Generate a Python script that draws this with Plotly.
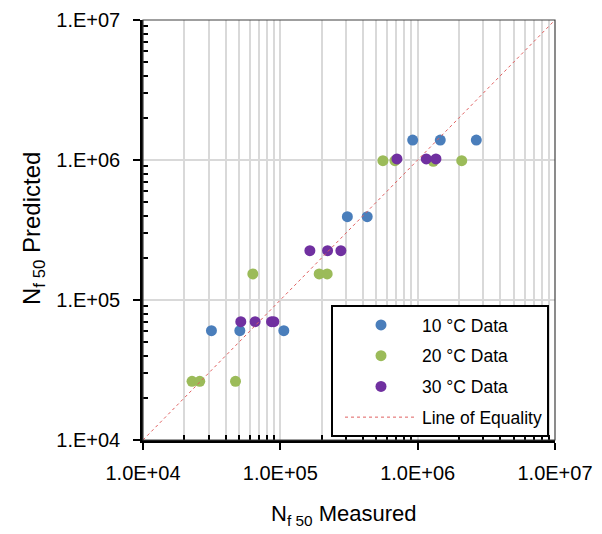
import plotly.graph_objects as go

# ---- data ----
blue_x = [31500, 50700, 106000, 307600, 429000, 919600, 1461000, 2673000]
blue_y = [60400, 60400, 60400, 393700, 393700, 1389000, 1389000, 1389000]

green_x = [22750, 25900, 47160, 63040, 191800, 219300, 558500, 683300, 1299000, 2093000]
green_y = [26250, 26250, 26250, 153400, 153400, 153400, 988600, 988600, 979000, 988600]

purple_x = [51530, 65520, 86280, 89670, 164100, 220800, 276000, 706500, 1155000, 1359000]
purple_y = [69980, 69980, 69980, 69980, 225000, 225000, 225000, 1017000, 1017000, 1017000]

equality = [1e4, 1e7]

major_vals = [1e4, 1e5, 1e6, 1e7]
x_tick_text = ["1.0E+04", "1.0E+05", "1.0E+06", "1.0E+07"]
y_tick_text = ["1.E+04", "1.E+05", "1.E+06", "1.E+07"]
minor_vals = [m * 10 ** e for e in (4, 5, 6) for m in range(2, 10)]

x_title = "N<sub>f 50</sub> Measured"
y_title = "N<sub>f 50</sub> Predicted"

FONT = "Liberation Sans, Arial, sans-serif"

fig = go.Figure()
fig.add_trace(go.Scatter(x=blue_x, y=blue_y, mode="markers", name="10 °C Data",
                         legendgroup="a",
                         marker=dict(color="#4a7ebb", size=11)))
fig.add_trace(go.Scatter(x=green_x, y=green_y, mode="markers", name="20 °C Data",
                         legendgroup="b",
                         marker=dict(color="#9bbb59", size=11)))
fig.add_trace(go.Scatter(x=purple_x, y=purple_y, mode="markers", name="30 °C Data",
                         legendgroup="c",
                         marker=dict(color="#7030a0", size=11)))
fig.add_trace(go.Scatter(x=equality, y=equality, mode="lines", name="Line of Equality",
                         legendgroup="d",
                         line=dict(color="#e06060", width=1, dash="dot")))

axis_common = dict(
    type="log", range=[4, 7], automargin=False,
    showline=True, linecolor="black", linewidth=2.5, mirror=False,
    ticks="outside", ticklen=7, tickcolor="black", tickwidth=1.5,
    tickvals=major_vals,
    showgrid=True, gridcolor="#d9d9d9", gridwidth=2,
    zeroline=False,
    tickfont=dict(family=FONT, size=20, color="black"),
)

fig.update_xaxes(**axis_common, ticktext=x_tick_text, ticklabelstandoff=6,
                 minor=dict(tickvals=minor_vals, ticks="inside", ticklen=5,
                            tickcolor="black", tickwidth=1.5,
                            showgrid=True, gridcolor="#d9d9d9", gridwidth=2))
fig.update_yaxes(**axis_common, ticktext=y_tick_text, ticklabelstandoff=9,
                 minor=dict(tickvals=minor_vals, ticks="inside", ticklen=5,
                            tickcolor="black", tickwidth=1.5, showgrid=False))

# thin frame on top / right of the plot area
fig.add_shape(type="rect", xref="x domain", yref="y domain", x0=0, x1=1, y0=0, y1=1,
              line=dict(color="#404040", width=1.2), layer="above")

fig.add_annotation(text=x_title, xref="paper", yref="paper",
                   x=(344 - 143) / 412, y=(440 - 515) / 420,
                   xanchor="center", yanchor="middle", showarrow=False,
                   font=dict(family=FONT, size=22, color="black"))
fig.add_annotation(text=y_title, xref="paper", yref="paper",
                   x=(33 - 143) / 412, y=(440 - 229) / 420,
                   xanchor="center", yanchor="middle", showarrow=False, textangle=-90,
                   font=dict(family=FONT, size=24, color="black"))

# the page body adds an 8px offset, so the figure is sized 594x526
fig.update_layout(
    width=594, height=526,
    margin=dict(l=135, r=47, t=12, b=94, autoexpand=False),
    plot_bgcolor="white", paper_bgcolor="white",
    font=dict(family=FONT, color="black"),
    showlegend=True,
    legend=dict(
        x=(549 - 143) / 412, y=(440 - 437) / 420,
        xanchor="right", yanchor="bottom",
        bgcolor="white", bordercolor="black", borderwidth=2,
        font=dict(family=FONT, size=17.5, color="black"),
        itemwidth=72, indentation=7, tracegroupgap=5,
    ),
)

fig.write_html("out.html")
